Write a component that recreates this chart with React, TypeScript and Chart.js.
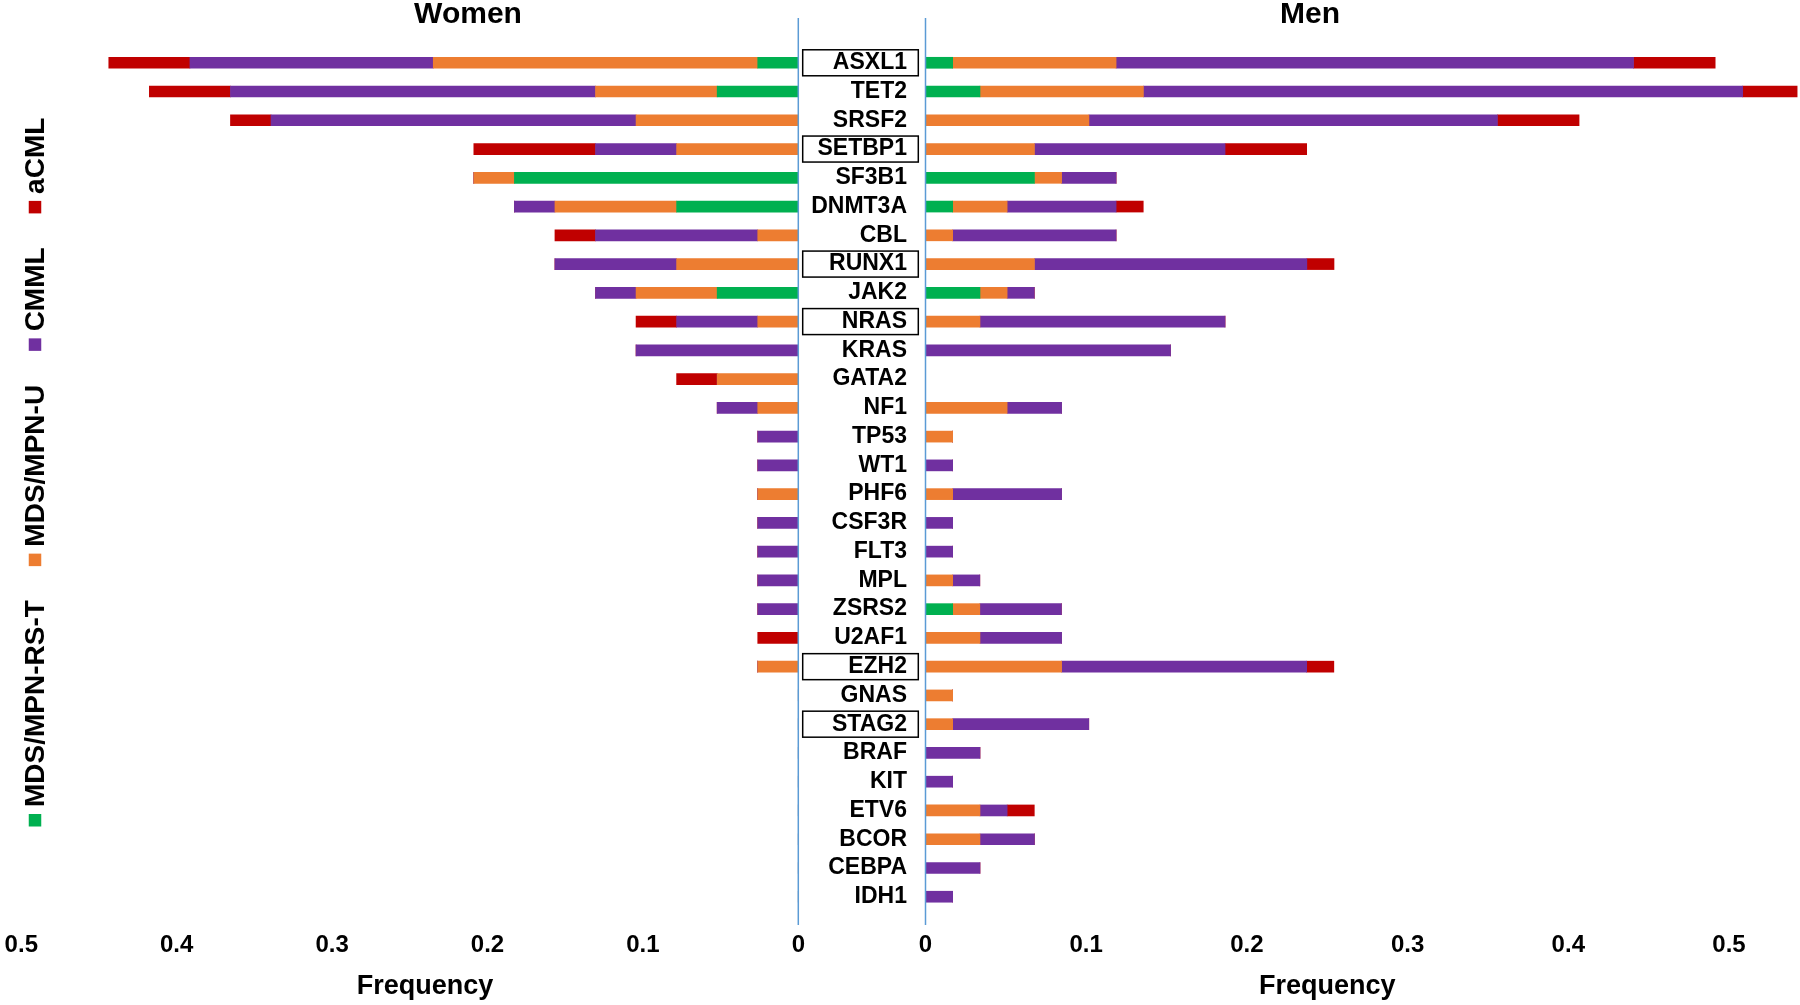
import React, { useEffect, useRef } from 'react';
import { Chart, registerables } from 'chart.js';

Chart.register(...registerables);

const genes = ['ASXL1', 'TET2', 'SRSF2', 'SETBP1', 'SF3B1', 'DNMT3A', 'CBL', 'RUNX1', 'JAK2', 'NRAS', 'KRAS', 'GATA2', 'NF1', 'TP53', 'WT1', 'PHF6', 'CSF3R', 'FLT3', 'MPL', 'ZSRS2', 'U2AF1', 'EZH2', 'GNAS', 'STAG2', 'BRAF', 'KIT', 'ETV6', 'BCOR', 'CEBPA', 'IDH1'];
const boxedGenes = ['ASXL1', 'SETBP1', 'RUNX1', 'NRAS', 'EZH2', 'STAG2'];
const subtypes = ['MDS/MPN-RS-T', 'MDS/MPN-U', 'CMML', 'aCML'];
const subtypeColors = ['#00B050', '#ED7D31', '#7030A0', '#C00000'];
const xTicks = [0, 0.1, 0.2, 0.3, 0.4, 0.5];

// Women (frequencies per gene, in gene order)
const womenRST = [0.0261, 0.0522, 0, 0, 0.1827, 0.0783, 0, 0, 0.0522, 0, 0, 0, 0, 0, 0, 0, 0, 0, 0, 0, 0, 0, 0, 0, 0, 0, 0, 0, 0, 0];
const womenU = [0.2088, 0.0783, 0.1044, 0.0783, 0.0261, 0.0783, 0.0261, 0.0783, 0.0522, 0.0261, 0, 0.0522, 0.0261, 0, 0, 0.0261, 0, 0, 0, 0, 0, 0.0261, 0, 0, 0, 0, 0, 0, 0, 0];
const womenCMML = [0.1566, 0.2349, 0.2349, 0.0522, 0, 0.0261, 0.1044, 0.0783, 0.0261, 0.0522, 0.1044, 0, 0.0261, 0.0261, 0.0261, 0, 0.0261, 0.0261, 0.0261, 0.0261, 0, 0, 0, 0, 0, 0, 0, 0, 0, 0];
const womenACML = [0.0522, 0.0522, 0.0261, 0.0783, 0, 0, 0.0261, 0, 0, 0.0261, 0, 0.0261, 0, 0, 0, 0, 0, 0, 0, 0, 0.0261, 0, 0, 0, 0, 0, 0, 0, 0, 0];

// Men
const menRST = [0.0169, 0.0339, 0, 0, 0.0678, 0.0169, 0, 0, 0.0339, 0, 0, 0, 0, 0, 0, 0, 0, 0, 0, 0.0169, 0, 0, 0, 0, 0, 0, 0, 0, 0, 0];
const menU = [0.1017, 0.1017, 0.1017, 0.0678, 0.0169, 0.0339, 0.0169, 0.0678, 0.0169, 0.0339, 0, 0, 0.0508, 0.0169, 0, 0.0169, 0, 0, 0.0169, 0.0169, 0.0339, 0.0847, 0.0169, 0.0169, 0, 0, 0.0339, 0.0339, 0, 0];
const menCMML = [0.3220, 0.3729, 0.2542, 0.1186, 0.0339, 0.0678, 0.1017, 0.1695, 0.0169, 0.1525, 0.1525, 0, 0.0339, 0, 0.0169, 0.0678, 0.0169, 0.0169, 0.0169, 0.0508, 0.0508, 0.1525, 0, 0.0847, 0.0339, 0.0169, 0.0169, 0.0339, 0.0339, 0.0169];
const menACML = [0.0508, 0.0339, 0.0508, 0.0508, 0, 0.0169, 0, 0.0169, 0, 0, 0, 0, 0, 0, 0, 0, 0, 0, 0, 0, 0, 0.0169, 0, 0, 0, 0, 0.0169, 0, 0, 0];

const FONT = "'Liberation Sans', Arial, Helvetica, sans-serif";
const AXIS_BLUE = '#5B9BD5';

function makeDatasets(series: number[][]) {
  return series.map((data, i) => ({
    label: subtypes[i],
    data,
    backgroundColor: subtypeColors[i],
    borderWidth: 0,
    barThickness: 11,
    clip: false as any,
  }));
}

function drawZeroLine(chart: any) {
  const ctx = chart.ctx;
  const x = chart.scales.x.getPixelForValue(0);
  ctx.save();
  ctx.strokeStyle = AXIS_BLUE;
  ctx.lineWidth = 1.5;
  ctx.beginPath();
  ctx.moveTo(x, 18);
  ctx.lineTo(x, 925);
  ctx.stroke();
  ctx.restore();
}

const womenDecor = {
  id: 'womenDecor',
  afterDatasetsDraw(chart: any) {
    drawZeroLine(chart);
  },
  afterDraw(chart: any) {
    const ctx = chart.ctx;
    ctx.save();
    ctx.fillStyle = '#000';
    ctx.textBaseline = 'middle';
    ctx.textAlign = 'center';
    ctx.font = `bold 30px ${FONT}`;
    ctx.fillText('Women', 468, 15);
    ctx.font = `bold 27px ${FONT}`;
    ctx.fillText('Frequency', 425, 987);

    // rotated legend on the left
    ctx.font = `bold 28px ${FONT}`;
    const cx = 35;
    const sq = 12.5;
    let y = 826.5;
    chart.data.datasets.forEach((ds: any) => {
      ctx.fillStyle = ds.backgroundColor;
      ctx.fillRect(cx - sq / 2, y - sq, sq, sq);
      y -= sq + 7;
      ctx.save();
      ctx.translate(cx + 1, y);
      ctx.rotate(-Math.PI / 2);
      ctx.fillStyle = '#000';
      ctx.textAlign = 'left';
      ctx.textBaseline = 'middle';
      ctx.fillText(ds.label, 0, 0);
      ctx.restore();
      const w = ctx.measureText(ds.label).width;
      y -= w + 34;
    });
    ctx.restore();
  },
};

const menDecor = {
  id: 'menDecor',
  afterDatasetsDraw(chart: any) {
    drawZeroLine(chart);
  },
  afterDraw(chart: any) {
    const ctx = chart.ctx;
    const yScale = chart.scales.y;
    const left = chart.chartArea.left;
    ctx.save();
    ctx.fillStyle = '#000';
    ctx.textBaseline = 'middle';
    ctx.textAlign = 'center';
    ctx.font = `bold 30px ${FONT}`;
    ctx.fillText('Men', 1310, 15);

    ctx.strokeStyle = '#000';
    ctx.lineWidth = 1.5;
    chart.data.labels.forEach((g: string, i: number) => {
      if (!boxedGenes.includes(g)) return;
      const yc = yScale.getPixelForValue(i);
      ctx.strokeRect(left - 122.8, yc - 13, 115.6, 26);
    });
    ctx.restore();
  },
};

export default function App() {
  const wRef = useRef<HTMLCanvasElement>(null);
  const mRef = useRef<HTMLCanvasElement>(null);

  useEffect(() => {
    Chart.defaults.font.family = FONT;
    Chart.defaults.color = '#000';

    const xTickOpts = {
      font: { size: 24, weight: 'bold' as const },
      color: '#000',
      padding: 19.7,
      maxRotation: 0,
      autoSkip: false,
    };

    const women = new Chart(wRef.current as HTMLCanvasElement, {
      type: 'bar',
      data: {
        labels: genes,
        datasets: makeDatasets([womenRST, womenU, womenCMML, womenACML]) as any,
      },
      options: {
        animation: false,
        responsive: false,
        devicePixelRatio: 1,
        indexAxis: 'y',
        layout: { padding: { left: 21.3, right: 1001.7, top: 48.4, bottom: 0 } },
        plugins: { legend: { display: false }, tooltip: { enabled: false }, title: { display: false } },
        scales: {
          x: {
            type: 'linear',
            stacked: true,
            reverse: true,
            min: 0,
            max: 0.5,
            grid: { display: false, drawTicks: false },
            border: { display: false },
            ticks: xTickOpts,
            afterBuildTicks: (s: any) => { s.ticks = xTicks.map((v) => ({ value: v })); },
            afterFit: (s: any) => { s.height = 93.9; },
          },
          y: {
            type: 'category',
            stacked: true,
            display: false,
          },
        },
      } as any,
      plugins: [womenDecor],
    });

    const men = new Chart(mRef.current as HTMLCanvasElement, {
      type: 'bar',
      data: {
        labels: genes,
        datasets: makeDatasets([menRST, menU, menCMML, menACML]) as any,
      },
      options: {
        animation: false,
        responsive: false,
        devicePixelRatio: 1,
        indexAxis: 'y',
        layout: { padding: { left: 0, right: 71, top: 48.4, bottom: 0 } },
        plugins: { legend: { display: false }, tooltip: { enabled: false }, title: { display: false } },
        scales: {
          x: {
            type: 'linear',
            stacked: true,
            min: 0,
            max: 0.5,
            grid: { display: false, drawTicks: false },
            border: { display: false },
            ticks: xTickOpts,
            afterBuildTicks: (s: any) => { s.ticks = xTicks.map((v) => ({ value: v })); },
            afterFit: (s: any) => { s.height = 93.9; },
            title: {
              display: true,
              text: 'Frequency',
              color: '#000',
              font: { size: 27, weight: 'bold' },
              padding: { top: 0, bottom: 1.9 },
            },
          },
          y: {
            type: 'category',
            stacked: true,
            position: 'left',
            grid: { display: false, drawTicks: false },
            border: { display: false },
            ticks: {
              font: { size: 23, weight: 'bold', lineHeight: 1 },
              color: '#000',
              padding: 18.5,
              autoSkip: false,
            },
            afterFit: (s: any) => { s.width = 925.5; },
          },
        },
      } as any,
      plugins: [menDecor],
    });

    return () => {
      women.destroy();
      men.destroy();
    };
  }, []);

  return (
    <div style={{ position: 'fixed', left: 0, top: 0, width: 1800, height: 1005, background: '#fff', overflow: 'hidden' }}>
      <canvas ref={wRef} width={1800} height={1005} style={{ position: 'absolute', left: 0, top: 0 }} />
      <canvas ref={mRef} width={1800} height={1005} style={{ position: 'absolute', left: 0, top: 0 }} />
    </div>
  );
}
